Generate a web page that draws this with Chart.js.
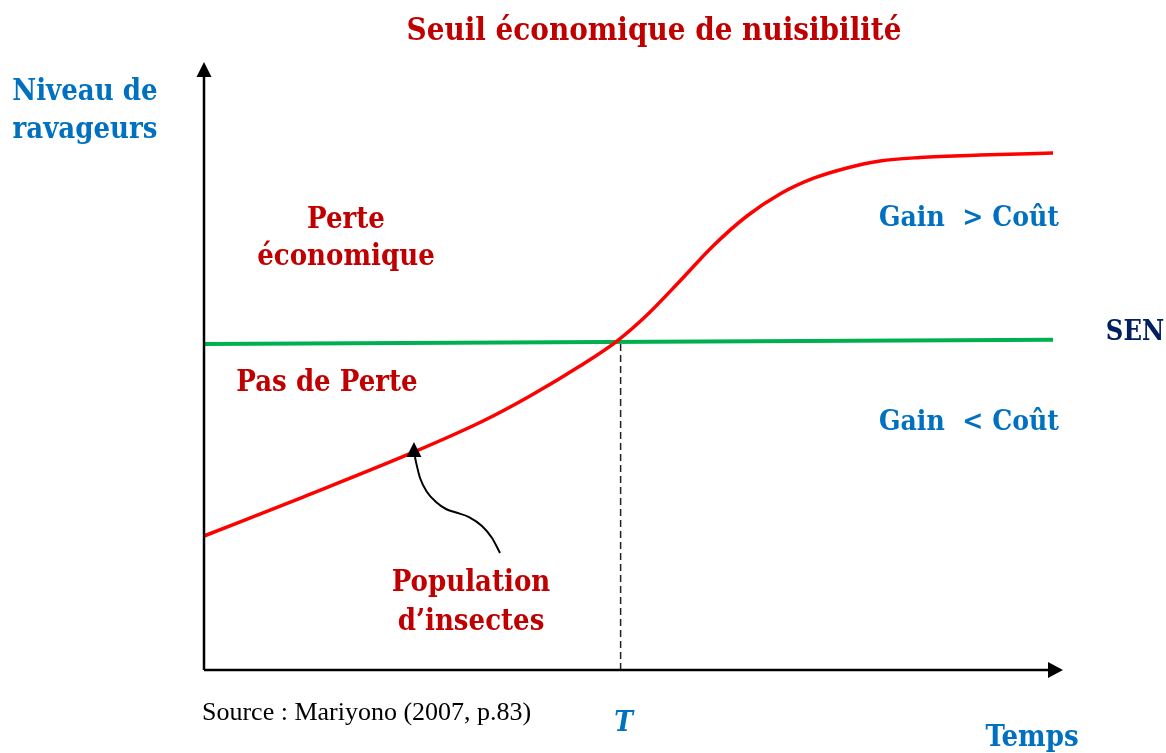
<!DOCTYPE html>
<html>
<head>
<meta charset="utf-8">
<script src="https://cdn.jsdelivr.net/npm/chart.js@4"></script>
<style>
html,body{margin:0;padding:0;background:#fff;}
#wrap{width:1166px;height:753px;position:relative;}
</style>
</head>
<body>
<div id="wrap"><canvas id="c"></canvas></div>
<script>
// ---- data (conceptual diagram) ----
const timeX       = [0, 11.53, 24.45, 32.48, 37.95, 43.77, 48.08, 51.57, 55.41, 59.26, 63.21, 67.05, 70.90, 74.85, 78.70, 83.35, 90.34, 98.84];
const populationY = [22.04, 28.45, 35.86, 40.95, 45.07, 50.0, 54.11, 58.39, 63.98, 69.74, 74.67, 78.29, 80.84, 82.57, 83.72, 84.29, 84.70, 85.03];
const senX = [0, 98.84];
const senY = [53.6, 54.3];
const thresholdT = 48.5;
const thresholdLevel = 54.1;
const pointerX = [34.46, 33.53, 32.36, 30.85, 29.34, 28.17, 27.01, 25.96, 25.15, 24.68, 24.56];
const pointerY = [19.24, 21.71, 23.68, 25.16, 25.90, 26.48, 27.63, 29.28, 31.58, 34.21, 35.03];

const zip = (xs, ys) => xs.map((x, i) => ({x, y: ys[i]}));

const RED = '#c00000', BLUE = '#0070c0', NAVY = '#002060';
const FAM = '"DejaVu Serif Condensed", "DejaVu Serif", serif';
const B = s => 'bold ' + s + 'px ' + FAM;

const decor = {
  id: 'decor',
  afterDatasetsDraw(chart) {
    const {ctx, chartArea: a, scales: {x, y}} = chart;
    ctx.save();
    // axes
    ctx.strokeStyle = '#000'; ctx.fillStyle = '#000'; ctx.lineWidth = 2.5;
    ctx.beginPath();
    ctx.moveTo(a.left, a.bottom); ctx.lineTo(a.left, a.top + 12);
    ctx.moveTo(a.left, a.bottom); ctx.lineTo(a.right - 12, a.bottom);
    ctx.stroke();
    ctx.beginPath();
    ctx.moveTo(a.left, a.top); ctx.lineTo(a.left - 7.5, a.top + 15); ctx.lineTo(a.left + 7.5, a.top + 15); ctx.closePath();
    ctx.fill();
    ctx.beginPath();
    ctx.moveTo(a.right, a.bottom); ctx.lineTo(a.right - 15, a.bottom - 8); ctx.lineTo(a.right - 15, a.bottom + 8); ctx.closePath();
    ctx.fill();
    // pointer arrowhead
    const px = x.getPixelForValue(pointerX[pointerX.length - 1]) - 1;
    const py = y.getPixelForValue(pointerY[pointerY.length - 1]);
    ctx.beginPath();
    ctx.moveTo(px, py - 15); ctx.lineTo(px - 7.5, py); ctx.lineTo(px + 7.5, py); ctx.closePath();
    ctx.fill();

    // texts
    ctx.textAlign = 'center'; ctx.textBaseline = 'middle';
    const t = (s, cx, cy, col, font) => { ctx.fillStyle = col; ctx.font = font; ctx.fillText(s, cx, cy); };
    t('Seuil économique de nuisibilité', 654, 32, RED, B(31));
    t('Niveau de', 85, 92, BLUE, B(29));
    t('ravageurs', 85, 130, BLUE, B(29));
    t('Perte', 346, 220, RED, B(29));
    t('économique', 346, 257, RED, B(29));
    t('Pas de Perte', 327, 383, RED, B(29));
    t('Gain  > Coût', 969, 219, BLUE, B(28));
    t('Gain  < Coût', 969, 423, BLUE, B(28));
    t('SEN', 1135, y.getPixelForValue(senY[1]) - 7, NAVY, B(27));
    t('Population', 471, 583, RED, B(29));
    t('d\u2019insectes', 471, 622, RED, B(29));
    t('T', x.getPixelForValue(thresholdT) + 3, 724, BLUE, 'italic ' + B(28));
    t('Temps', 1032, 738, BLUE, B(29));
    ctx.textAlign = 'left';
    t('Source : Mariyono (2007, p.83)', 202, 713, '#000', '26px "Liberation Serif", "Times New Roman", serif');
    ctx.restore();
  }
};

new Chart(document.getElementById('c'), {
  type: 'line',
  data: {
    datasets: [
      {data: zip(timeX, populationY), borderColor: '#ff0000', borderWidth: 3.5, cubicInterpolationMode: 'monotone', pointRadius: 0},
      {data: zip(senX, senY), borderColor: '#00b050', borderWidth: 4, pointRadius: 0},
      {data: [{x: thresholdT, y: 0}, {x: thresholdT, y: thresholdLevel}], borderColor: '#222', borderWidth: 1.5, borderDash: [7, 4], pointRadius: 0},
      {data: zip(pointerX, pointerY), borderColor: '#000', borderWidth: 2, cubicInterpolationMode: 'monotone', pointRadius: 0}
    ]
  },
  options: {
    responsive: true, maintainAspectRatio: false, animation: false,
    layout: {padding: {left: 204, top: 62, right: 103, bottom: 83}},
    plugins: {legend: {display: false}, tooltip: {enabled: false}, title: {display: false}},
    scales: {
      x: {type: 'linear', min: 0, max: 100, display: false},
      y: {type: 'linear', min: 0, max: 100, display: false}
    }
  },
  plugins: [decor]
});
</script>
</body>
</html>
